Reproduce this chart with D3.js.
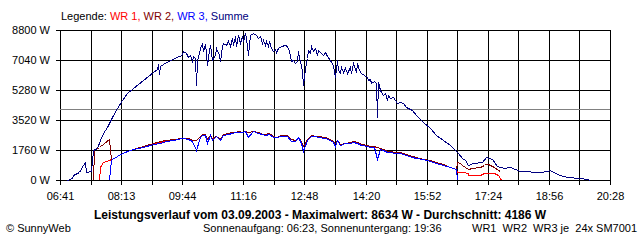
<!DOCTYPE html>
<html>
<head>
<meta charset="utf-8">
<script src="https://cdn.jsdelivr.net/npm/d3@7"></script>
<style>
  body { margin: 0; background: #fff; }
  svg { display: block; font-family: "Liberation Sans", Arial, sans-serif; font-size: 11px; }
</style>
</head>
<body>
<script>
// Time axis: minutes after 06:41, labels every second grid line
var dayLength = 827;
var timeLabels = ["06:41", "08:13", "09:44", "11:16", "12:48", "14:20", "15:52", "17:24", "18:56", "20:28"];
var wattTicks = [0, 1760, 3520, 5280, 7040, 8800];
var avgWatt = 4186;

// Summe (all inverters)
var sumTime = [10,18,20,28,35,38,39,46,49,55,
  60,65,70,78,85,93,100,110,125,140,
  146,147,149,150,160,170,175,183,185,189,
  193,195,198,200,203,204,206,210,213,215,
  218,220,221,224,226,229,233,235,239,241,
  243,245,250,253,255,258,260,263,265,268,
  270,273,275,278,280,283,285,290,295,298,
  300,303,305,308,310,313,315,318,320,323,
  325,328,333,338,342,345,347,351,353,356,
  358,360,362,364,366,368,371,373,376,378,
  381,383,386,388,391,396,398,402,406,408,
  411,413,416,418,421,423,426,428,431,436,
  438,441,445,447,450,453,457,461,463,466,
  468,472,475,477,478,481,483,486,488,491,
  493,496,501,503,507,511,516,521,529,536,
  546,556,566,576,586,594,599,604,609,614,
  621,634,640,649,657,667,677,692,722,732,
  737,741,752,762,782,792,797];
var sumWatt = [0,100,290,490,880,1070,490,550,1760,1860,
  2350,2740,3130,3710,4210,4690,5090,5380,5870,6350,
  6510,6810,6220,6690,6940,7100,7200,7350,7550,7450,
  7200,7350,6960,7260,7160,5590,6960,7740,8040,7550,
  7980,7450,6760,7640,7940,7060,7350,7740,7350,6960,
  7840,8040,7940,8140,7840,8330,7940,8430,7840,8520,
  8040,8430,8140,8634,8330,7350,8520,8600,8520,8330,
  8430,8040,8230,7940,8140,7840,8140,7740,7550,7700,
  7510,7740,7840,7940,7840,7550,6960,7060,6860,6960,
  7550,7160,6760,6380,5590,6570,7160,7640,7450,7840,
  7550,7740,7350,7640,7530,7330,7530,7270,7040,6940,
  6750,6060,7040,6450,6260,6650,6350,6550,6260,6650,
  6260,6850,6350,6880,6450,6260,6160,6060,5870,5910,
  5710,5830,5670,3710,5770,5280,5180,4990,5090,4690,
  4990,4790,4890,4690,4500,4590,4500,4300,4110,3810,
  3420,3030,2640,2350,2050,1760,1570,1270,1170,880,
  980,1070,1330,1210,820,690,780,530,470,530,
  560,470,320,190,90,30,0];

// Single inverters WR 1, WR 2, WR 3 (null = no data)
var wrTime = [50,51,59,60,65,73,74,76,
  78,93,110,125,140,150,160,170,183,193,
  198,204,210,213,218,221,226,229,235,241,
  245,253,258,263,268,273,278,283,290,298,
  303,308,315,320,325,333,342,347,353,358,
  362,366,371,378,383,388,398,406,411,413,
  416,421,428,436,441,447,453,461,466,472,
  477,481,486,491,496,503,511,521,529,536,
  546,556,566,576,586,595,
  597,601,604,613,614,619,632,637,639,644,652,659,662,663];
var wr1 = [null,null,0,760,1060,1170,1180,1230,
  1260,1580,1820,1980,2140,2230,2330,2390,2470,2430,
  2350,2330,2600,2660,2660,2400,2650,2420,2590,2400,
  2690,2720,2790,2820,2850,2820,2890,2800,2870,2790,
  2700,2660,2720,2560,2530,2620,2620,2390,2340,2530,
  2300,1990,2400,2620,2590,2560,2520,2370,2290,2180,
  2350,2130,2190,2220,2270,2200,2110,2020,1990,1960,
  1940,1870,1780,1690,1680,1620,1610,1500,1390,1320,
  1230,1140,1020,920,780,640,
  490,490,480,430,290,290,290,430,430,420,390,290,100,0];
var wr2 = [0,1760,1910,2000,2110,2380,2390,1220,
  1250,1590,1830,1990,2150,2260,2340,2400,2480,2440,
  2360,2340,2610,2680,2670,2420,2660,2440,2600,2420,
  2700,2730,2800,2830,2860,2830,2900,2810,2880,2800,
  2710,2670,2730,2570,2540,2630,2630,2400,2350,2540,
  2310,2000,2410,2630,2600,2570,2530,2380,2300,2190,
  2360,2140,2200,2230,2280,2210,2120,2030,2000,1970,
  1950,1880,1790,1700,1690,1630,1620,1510,1400,1330,
  1240,1150,1030,930,790,650,
  1070,1010,880,640,630,690,750,900,940,940,780,590,530,null];
var wr3 = [null,null,null,null,null,null,0,1200,
  1220,1560,1800,1950,2110,2200,2300,2360,2440,2390,
  2290,1760,2540,2640,2630,2200,2620,2330,2560,2330,
  2660,2690,2760,2790,2820,2790,2860,2500,2850,2760,
  2670,2630,2700,2520,2500,2600,2590,2300,2280,2500,
  2200,1720,2370,2600,2560,2530,2490,2340,2240,2000,
  2330,2080,2160,2190,2250,2170,2080,1990,1960,1930,
  1230,1840,1750,1660,1650,1590,1580,1470,1360,1300,
  1210,1120,1000,900,760,620,
  0,null,null,null,null,null,null,null,null,null,null,null,null,null];

// Set the dimensions and margins of the graph
var margin = {top: 30, right: 30, bottom: 60, left: 60},
    width = 640 - margin.left - margin.right,
    height = 240 - margin.top - margin.bottom;

var svg = d3.select("body").append("svg")
    .attr("width", 640)
    .attr("height", 240);

var g = svg.append("g")
    .attr("transform", "translate(" + margin.left + "," + margin.top + ")");

var x = d3.scaleLinear().domain([0, dayLength]).rangeRound([0, width]);
var y = d3.scaleLinear().domain([0, 8800]).rangeRound([height, 0]);

// Y grid + left stubs + labels
g.append("g")
    .attr("transform", "translate(" + width + ",0)")
    .call(d3.axisLeft(y).tickValues(wattTicks).tickSize(width + 4).tickPadding(6)
      .tickFormat(function(d) { return d + " W"; }))
    .call(function(a) {
      a.select(".domain").remove();
      a.attr("font-family", null).attr("font-size", null);
      a.selectAll("line").attr("stroke", "#000").attr("shape-rendering", "crispEdges");
    });

// X grid (every 1/18 of the day) + bottom stubs + labels every second line
var gridTimes = d3.range(19).map(function(i) { return i * dayLength / 18; });
g.append("g")
    .call(d3.axisBottom(x).tickValues(gridTimes).tickSize(height + 5).tickPadding(7)
      .tickFormat(function(d, i) { return i % 2 === 0 ? timeLabels[i / 2] : ""; }))
    .call(function(a) {
      a.select(".domain").remove();
      a.attr("font-family", null).attr("font-size", null);
      a.selectAll("line").attr("stroke", "#000").attr("shape-rendering", "crispEdges");
    });

// Average line
g.append("line")
    .attr("x1", 0).attr("x2", width)
    .attr("y1", y(avgWatt) + 0.5).attr("y2", y(avgWatt) + 0.5)
    .attr("stroke", "#808080")
    .attr("shape-rendering", "crispEdges");

var line = d3.line()
    .defined(function(d) { return d.w != null; })
    .x(function(d) { return x(d.t) + 0.5; })
    .y(function(d) { return y(d.w) + 0.5; });

var series = [
  {name: "WR 1", color: "#ff0000", times: wrTime, values: wr1},
  {name: "WR 2", color: "#800000", times: wrTime, values: wr2},
  {name: "WR 3", color: "#0000ff", times: wrTime, values: wr3},
  {name: "Summe", color: "#000080", times: sumTime, values: sumWatt}
];

series.forEach(function(s) {
  var pts = s.values.map(function(v, i) { return {t: s.times[i], w: v}; });
  g.append("path")
      .datum(pts)
      .attr("fill", "none")
      .attr("stroke", s.color)
      .attr("stroke-width", 1)
      .attr("shape-rendering", "crispEdges")
      .attr("d", line);
});

// Legend
var legend = svg.append("text").attr("x", 61).attr("y", 20);
legend.append("tspan").attr("fill", "#000").text("Legende: ");
series.forEach(function(s, i) {
  legend.append("tspan").attr("fill", s.color)
    .text(s.name + (i < series.length - 1 ? ", " : ""));
});

// Title and footer
svg.append("text")
    .attr("x", 320).attr("y", 219)
    .attr("text-anchor", "middle")
    .attr("font-weight", "bold")
    .style("font-size", "12px")
    .text("Leistungsverlauf vom 03.09.2003 - Maximalwert: 8634 W - Durchschnitt: " + avgWatt + " W");

svg.append("text").attr("x", 6).attr("y", 232).text("\u00a9 SunnyWeb");
svg.append("text").attr("x", 203).attr("y", 232).text("Sonnenaufgang: 06:23, Sonnenuntergang: 19:36");
svg.append("text").attr("x", 472).attr("y", 232).style("white-space", "pre")
    .text("WR1  WR2  WR3 je  24x SM7001");
</script>
</body>
</html>
